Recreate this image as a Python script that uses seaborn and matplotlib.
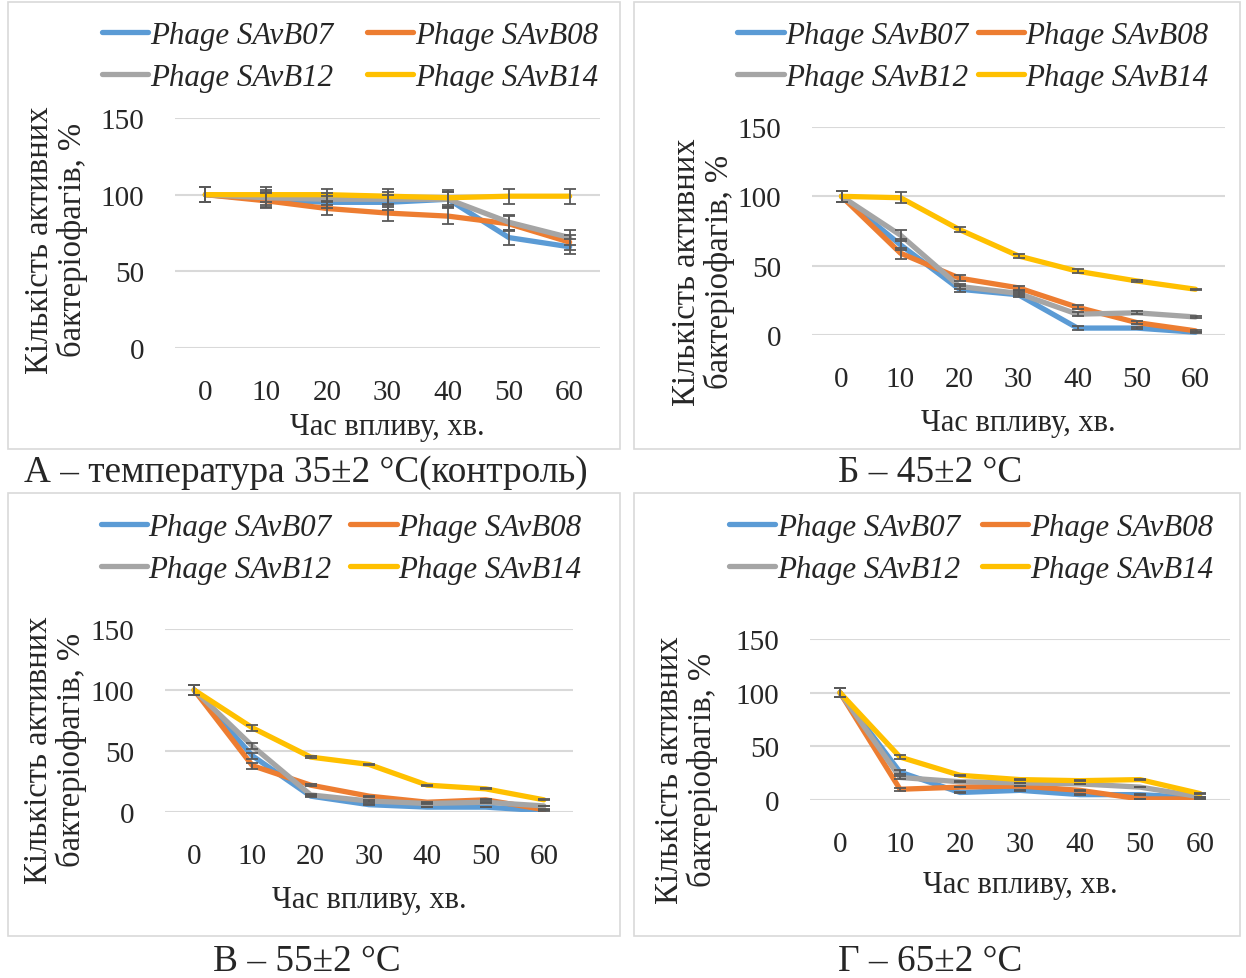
import matplotlib
matplotlib.use("Agg")
import matplotlib.pyplot as plt
from matplotlib.patches import Rectangle
import numpy as np
import pandas as pd
import seaborn as sns

# ---- data ----
time_min = [0, 10, 20, 30, 40, 50, 60]
phages = ["Phage SAvB07", "Phage SAvB08", "Phage SAvB12", "Phage SAvB14"]

# A - 35 C (control)
a_b07 = [100, 97, 95, 95, 97, 72, 66]
a_b08 = [100, 96, 91, 88, 86, 81, 69]
a_b12 = [100, 98, 97, 97, 97, 82, 72]
a_b14 = [100, 100, 100, 99, 98, 99, 99]
a_err = [5, 5, 4, 5, 5, 5, 5]

# B - 45 C
b_b07 = [100, 65, 33, 29, 5, 5, 2]
b_b08 = [100, 59, 41, 34, 20, 9, 3]
b_b12 = [100, 72, 35, 30, 15, 16, 13]
b_b14 = [100, 99, 76, 57, 46, 39, 33]
b_err = [4, 4, 2, 1.5, 1.5, 1, 0.5]

# C - 55 C
c_b07 = [100, 46, 13, 6, 4, 4, 1]
c_b08 = [100, 38, 22, 13, 8, 10, 2]
c_b12 = [100, 54, 14, 9, 7, 8, 5]
c_b14 = [100, 69, 45, 39, 22, 19, 10]
c_err = [4, 2.5, 1, 0.5, 0.3, 0.3, 0.3]

# D - 65 C
d_b07 = [100, 26, 7, 9, 5, 5, 2]
d_b08 = [100, 10, 12, 13, 9, 1, 1]
d_b12 = [100, 21, 17, 16, 15, 12, 3]
d_b14 = [100, 40, 23, 19, 18, 19, 6]
d_err = [4, 1.5, 0.3, 0.2, 0.2, 0.2, 0.2]

captions = ["А – температура 35±2 °С(контроль)", "Б – 45±2 °С",
            "В – 55±2 °С", "Г – 65±2 °С"]

colors = ["#5B9BD5", "#ED7D31", "#A5A5A5", "#FFC000"]

sns.set_theme(style="white")
plt.rcParams["font.family"] = ["Liberation Serif", "DejaVu Serif"]

W, H = 1246, 979
fig = plt.figure(figsize=(W / 100, H / 100), dpi=100)

panels = [
    ([a_b07, a_b08, a_b12, a_b14], a_err),
    ([b_b07, b_b08, b_b12, b_b14], b_err),
    ([c_b07, c_b08, c_b12, c_b14], c_err),
    ([d_b07, d_b08, d_b12, d_b14], d_err),
]

# plot areas in pixels: left, top, right, bottom
plot_px = [(175, 119, 600, 349), (812, 128, 1225, 336),
           (165, 630, 573, 813), (810, 640, 1230, 801)]
boxes = [(8, 3, 620, 450), (634, 3, 1240, 450),
         (8, 494, 620, 937), (634, 494, 1240, 937)]
caption_pos = [(306, 473), (930, 473), (307, 962), (930, 962)]
legend_pos = [(350, 57.5), (973, 57.5), (341, 549.5), (971, 549.5)]
legend_colsp = [1.1, 0.3, 0.6, 0.7]
xlabel_y = [427, 423, 901, 886]
ylabel_xy = [(56, 240), (703, 272), (55, 750), (686, 770)]

for i, (series, err) in enumerate(panels):
    x0, y0, x1, y1 = boxes[i]
    fig.add_artist(Rectangle((x0 / W, 1 - y1 / H), (x1 - x0) / W, (y1 - y0) / H,
                             transform=fig.transFigure, fill=False,
                             edgecolor="#D9D9D9", linewidth=1.2))
    l, t, r, b = plot_px[i]
    ax = fig.add_axes([l / W, 1 - b / H, (r - l) / W, (b - t) / H])
    df = pd.DataFrame({
        "time": np.tile(time_min, 4),
        "value": np.concatenate(series),
        "phage": np.repeat(phages, len(time_min)),
    })
    sns.lineplot(data=df, x="time", y="value", hue="phage", palette=colors,
                 linewidth=3.8, ax=ax, legend=False)
    for s in series:
        ax.errorbar(time_min, s, yerr=err, fmt="none", ecolor="#595959",
                    elinewidth=1.3, capsize=4, capthick=1.3, zorder=5)
    ax.set_xlim(-5, 65)
    ax.set_ylim(0, 150)
    ax.set_yticks([0, 50, 100, 150])
    ax.set_xticks(time_min)
    ax.grid(axis="y", color="#D9D9D9", linewidth=1.5)
    ax.set_axisbelow(True)
    for sp in ax.spines.values():
        sp.set_visible(False)
    ax.tick_params(axis="x", length=0, pad=22, labelsize=21)
    ax.tick_params(axis="y", length=0, pad=22, labelsize=21)

    ax.set_xlabel("Час впливу, хв.", fontsize=22, va="center")
    ax.xaxis.set_label_coords(0.5, -(xlabel_y[i] - b) / (b - t))
    lx, ly = ylabel_xy[i]
    ax.set_ylabel("Кількість активних\nбактеріофагів, %", fontsize=23.5,
                  linespacing=1.05, va="center")
    ax.yaxis.set_label_coords(-(l - lx) / (r - l), (b - ly) / (b - t))

    handles = [plt.Line2D([], [], color=c, linewidth=3.8) for c in colors]
    order = [0, 2, 1, 3]
    cx, cy = legend_pos[i]
    fig.legend([handles[k] for k in order], [phages[k] for k in order],
               loc="center", bbox_to_anchor=(cx / W, 1 - cy / H), ncol=2,
               frameon=False, prop={"style": "italic", "size": 22.3},
               handlelength=1.5, handletextpad=0.05,
               columnspacing=legend_colsp[i], labelspacing=0.42)

    cx, cy = caption_pos[i]
    fig.text(cx / W, 1 - cy / H, captions[i], ha="center", va="center",
             fontsize=26.8)

fig.savefig("out.png", dpi=100)
